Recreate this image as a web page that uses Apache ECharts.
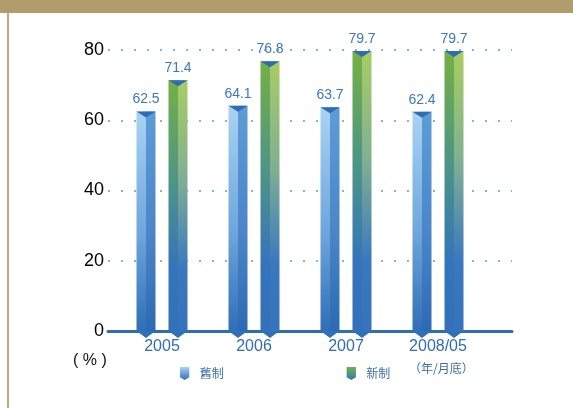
<!DOCTYPE html>
<html><head><meta charset="utf-8">
<script src="https://cdn.jsdelivr.net/npm/echarts@6/dist/echarts.min.js"></script>
<style>html,body{margin:0;padding:0;background:#fff}#c{width:573px;height:408px}</style>
</head><body><div id="c"></div>
<script>
const categories = ['2005', '2006', '2007', '2008/05'];
const oldValues = [62.5, 64.1, 63.7, 62.4];
const newValues = [71.4, 76.8, 79.7, 79.7];
const yTicks = { min: 0, max: 80, interval: 20 };
const seriesNames = ['舊制', '新制'];

const FONT = '"Liberation Sans", Arial, "Noto Sans CJK TC", sans-serif';
const lg = (stops) => new echarts.graphic.LinearGradient(0, 0, 0, 1, stops.map((c, i) => ({offset: c[0], color: c[1]})));

const palettes = {
  old: {
    left: [[0, '#A9D3F3'], [0.55, '#6FA6DD'], [1, '#2F6FB7']],
    right: [[0, '#5E9CD7'], [0.55, '#4A86C8'], [1, '#2D6AB3']]
  },
  new: {
    left: [[0, '#74B045'], [0.4, '#4E9585'], [0.75, '#3574BA'], [1, '#3271B8']],
    right: [[0, '#A8CD63'], [0.4, '#7FAF93'], [0.75, '#3A78BE'], [1, '#3574BA']]
  }
};

function makeRender(offset, pal) {
  return function (params, api) {
    const ci = api.value(0), v = api.value(1);
    const top = api.coord([ci, v]);
    const base = api.coord([ci, 0]);
    const cx = top[0] + offset;
    const hw = 9.5;
    const h = base[1] - top[1];
    return {
      type: 'group',
      children: [
        {type: 'rect', shape: {x: cx - hw, y: top[1], width: hw, height: h}, style: {fill: lg(pal.left)}},
        {type: 'rect', shape: {x: cx, y: top[1], width: hw, height: h}, style: {fill: lg(pal.right)}},
        {type: 'polygon', shape: {points: [[cx - hw, top[1]], [cx + hw, top[1]], [cx, top[1] + 6]]}, style: {fill: '#2E6CB4'}},
        {type: 'polygon', shape: {points: [[cx - hw, base[1]], [cx + hw, base[1]], [cx, base[1] + 7]]}, style: {fill: '#3070B7'}},
        {type: 'text', style: {text: String(v), x: cx, y: top[1] - 5, align: 'center', verticalAlign: 'bottom',
          fill: '#3A78C0', font: '14px ' + FONT}}
      ]
    };
  };
}

const chart = echarts.init(document.getElementById('c'), null, {renderer: 'canvas'});
chart.setOption({
  animation: false,
  textStyle: {fontFamily: FONT},
  graphic: [
    {type: 'rect', left: 0, top: 0, shape: {width: 573, height: 13}, style: {fill: '#B19D6B'}, silent: true},
    {type: 'rect', left: 7, top: 13, shape: {width: 2, height: 395}, style: {fill: '#C0AC84'}, silent: true},
    {type: 'text', left: 73, top: 353, style: {text: '( % )', font: '16px ' + FONT, fill: '#111'}},
    {type: 'text', left: 409, top: 362, style: {text: '（年/月底）', font: '12px "Noto Sans CJK TC", sans-serif', fill: '#3E6DAE'}}
  ],
  legend: {
    left: 175, top: 362, itemWidth: 10, itemHeight: 13, itemGap: 123,
    textStyle: {color: '#3E6DAE', fontSize: 12, fontFamily: '"Noto Sans CJK TC", sans-serif', padding: [0, 0, 0, 5]},
    data: [
      {name: seriesNames[0], icon: 'path://M0,0 L10,0 L10,11 L5,14 L0,11 Z'},
      {name: seriesNames[1], icon: 'path://M0,0 L10,0 L10,11 L5,14 L0,11 Z'}
    ]
  },
  grid: [
    {left: 108, right: 61, top: 50, bottom: 77},
    {left: 116, right: 89, top: 50, bottom: 77}
  ],
  xAxis: [
    {gridIndex: 0, type: 'category', data: categories, axisLine: {lineStyle: {color: '#2E6DB4', width: 3}},
      axisTick: {show: false}, axisLabel: {show: false}, splitLine: {show: false}},
    {gridIndex: 1, type: 'category', data: categories, axisLine: {show: false}, axisTick: {show: false},
      axisLabel: {color: '#2F6DB4', fontSize: 16, margin: 8}}
  ],
  yAxis: [
    {gridIndex: 0, type: 'value', min: yTicks.min, max: yTicks.max, interval: yTicks.interval,
      axisLine: {show: false}, axisTick: {show: false},
      axisLabel: {color: '#000', fontSize: 18, margin: 4},
      splitLine: {lineStyle: {color: '#8AB0DD', width: 2, type: [2, 11]}}},
    {gridIndex: 1, type: 'value', min: yTicks.min, max: yTicks.max, interval: yTicks.interval, show: false}
  ],
  series: [
    {name: seriesNames[0], type: 'custom', xAxisIndex: 1, yAxisIndex: 1, z: 5,
      itemStyle: {color: lg([[0, '#A9D3F3'], [1, '#2F6FB7']])},
      renderItem: makeRender(-16, palettes.old),
      data: oldValues.map((v, i) => [i, v])},
    {name: seriesNames[1], type: 'custom', xAxisIndex: 1, yAxisIndex: 1, z: 5,
      itemStyle: {color: lg([[0, '#74B045'], [0.5, '#4E9585'], [1, '#3574BA']])},
      renderItem: makeRender(16, palettes.new),
      data: newValues.map((v, i) => [i, v])}
  ]
});
</script></body></html>
